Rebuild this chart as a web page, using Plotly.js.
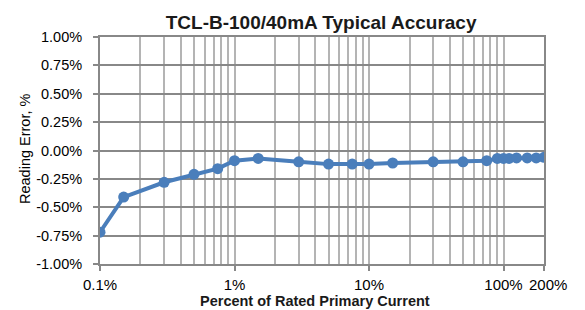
<!DOCTYPE html>
<html>
<head>
<meta charset="utf-8">
<script src="https://cdn.plot.ly/plotly-3.0.1.min.js"></script>
<style>
  html, body { margin: 0; padding: 0; background: #fff; }
  #chart { width: 585px; height: 310px; }
</style>
</head>
<body>
<div id="chart"></div>
<script>
// Percent of rated primary current
const percentRated = [0.1, 0.15, 0.3, 0.5, 0.75, 1, 1.5, 3, 5, 7.5, 10, 15, 30, 50, 75, 90, 100, 110, 125, 150, 175, 200];
// Reading error, %
const readingError = [-0.72, -0.41, -0.28, -0.21, -0.16, -0.09, -0.07, -0.10, -0.12, -0.12, -0.12, -0.11, -0.10, -0.10, -0.09, -0.07, -0.07, -0.07, -0.065, -0.065, -0.065, -0.06];

const xTickVals = [0.1, 1, 10, 100, 200];
const xTickText = ['0.1%', '1%', '10%', '100%', '\u00a0\u00a0200%'];
const yTickVals = [1, 0.75, 0.5, 0.25, 0, -0.25, -0.5, -0.75, -1];
const yTickText = ['1.00%', '0.75%', '0.50%', '0.25%', '0.00%', '-0.25%', '-0.50%', '-0.75%', '-1.00%'];

const FONT = '"Liberation Sans", Arial, Helvetica, sans-serif';

const trace = {
  x: percentRated,
  y: readingError,
  type: 'scatter',
  mode: 'lines+markers',
  line: { color: '#4a7ebb', width: 4 },
  marker: { color: '#4a7ebb', size: 11 },
  hoverinfo: 'x+y'
};

const layout = {
  width: 585,
  height: 310,
  margin: { l: 100, r: 41, t: 37, b: 46 },
  paper_bgcolor: '#ffffff',
  plot_bgcolor: '#ffffff',
  showlegend: false,
  font: { family: FONT, size: 14, color: '#000' },
  title: {
    text: '<b>TCL-B-100/40mA Typical Accuracy</b>',
    font: { family: FONT, size: 19, color: '#1a1a1a' },
    x: 0.498, xanchor: 'center', xref: 'paper',
    y: 0.928, yanchor: 'middle'
  },
  xaxis: {
    type: 'log',
    range: [-1, Math.log10(200)],
    tickvals: xTickVals,
    ticktext: xTickText,
    tickangle: 0,
    ticks: 'outside', ticklen: 5, tickwidth: 2, tickcolor: '#888888',
    showgrid: true, gridcolor: '#b4b4b4', gridwidth: 2,
    minor: { dtick: 'D1', showgrid: true, gridcolor: '#b4b4b4', gridwidth: 2, ticks: '' },
    showline: true, linecolor: '#888888', linewidth: 2, mirror: true,
    zeroline: false,
    tickfont: { family: FONT, size: 15, color: '#000' },
    ticklabelstandoff: 1,
    ticklabeloverflow: 'allow',
    title: { text: '' }
  },
  yaxis: {
    range: [-1, 1],
    tickvals: yTickVals,
    ticktext: yTickText,
    ticks: 'outside', ticklen: 5, tickwidth: 2, tickcolor: '#888888',
    showgrid: true, gridcolor: '#888888', gridwidth: 2,
    showline: true, linecolor: '#888888', linewidth: 2, mirror: true,
    zeroline: false,
    tickfont: { family: FONT, size: 14.5, color: '#000' },
    ticklabelstandoff: 8,
    title: { text: '' }
  },
  annotations: [
    {
      text: '<b>Percent of Rated Primary Current</b>',
      xref: 'paper', yref: 'paper',
      x: (314.5 - 100) / 444, y: -(301 - 264) / 227,
      xanchor: 'center', yanchor: 'middle',
      showarrow: false,
      font: { family: FONT, size: 14.5, color: '#1a1a1a' }
    },
    {
      text: 'Reading Error, %',
      xref: 'paper', yref: 'paper',
      x: (25 - 100) / 444, y: (264 - 149) / 227,
      xanchor: 'center', yanchor: 'middle',
      textangle: -90,
      showarrow: false,
      font: { family: FONT, size: 14.5, color: '#000' }
    }
  ]
};

Plotly.newPlot('chart', [trace], layout, { displayModeBar: false, staticPlot: true });
</script>
</body>
</html>
